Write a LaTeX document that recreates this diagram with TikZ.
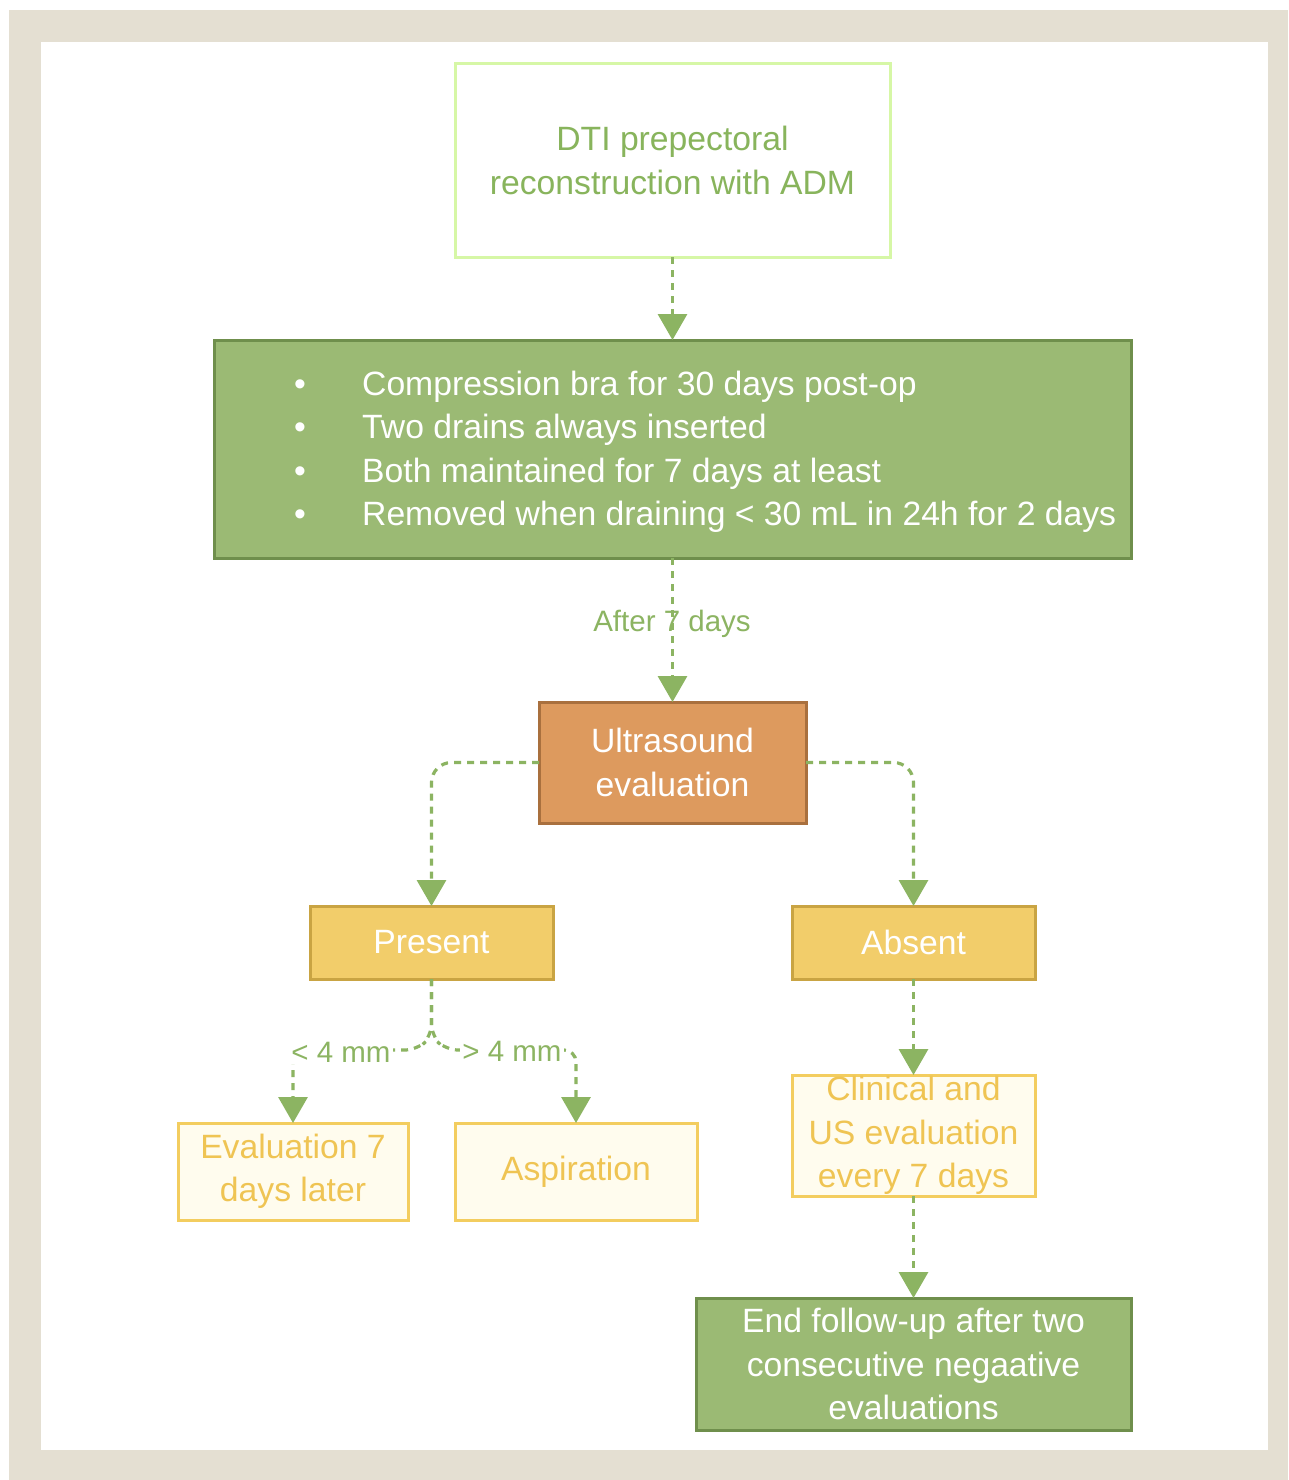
\documentclass[tikz,border=0pt]{standalone}
\usepackage{fontspec}
\setmainfont{Liberation Sans}
\usetikzlibrary{arrows.meta}
\definecolor{beige}{HTML}{E4DFD2}
\definecolor{conngreen}{HTML}{8CB462}
\definecolor{boxgreen}{HTML}{9BBA74}
\definecolor{boxgreenborder}{HTML}{6F8F4C}
\definecolor{limeborder}{HTML}{D6F7A6}
\definecolor{limetext}{HTML}{88B45C}
\definecolor{orangefill}{HTML}{DD9A5E}
\definecolor{orangeborder}{HTML}{A9703E}
\definecolor{yellowfill}{HTML}{F2CD6A}
\definecolor{yellowborder}{HTML}{C9A443}
\definecolor{creamfill}{HTML}{FFFCEE}
\definecolor{creamborder}{HTML}{F3CD5F}
\definecolor{creamtext}{HTML}{EFC453}
\tikzset{
  basebox/.style={rectangle, line width=3pt, inner sep=0pt, outer sep=0pt, align=center,
    font=\fontsize{33.7}{43.5}\selectfont},
  startbox/.style={basebox, draw=limeborder, fill=white, text=limetext},
  greenbox/.style={basebox, draw=boxgreenborder, fill=boxgreen, text=white},
  orangebox/.style={basebox, draw=orangeborder, fill=orangefill, text=white},
  yellowbox/.style={basebox, draw=yellowborder, fill=yellowfill, text=white},
  creambox/.style={basebox, draw=creamborder, fill=creamfill, text=creamtext},
  conn/.style={draw=conngreen, line width=3.2pt, dash pattern=on 7pt off 6pt,
    -{Triangle[width=29pt,length=26pt,fill=conngreen]}},
  lbl/.style={text=conngreen, font=\fontsize{29.5}{34}\selectfont, inner sep=2pt},
}
\begin{document}
\begin{tikzpicture}[x=1pt,y=-1pt]
\useasboundingbox (0,0) rectangle (1288,1480);
\fill[white] (0,0) rectangle (1288,1480);
\fill[beige] (9,10) rectangle (1288,1480);
\fill[white] (41,42) rectangle (1268,1450);

\node[startbox, minimum width=435, minimum height=193] (top) at (672.5,160.5)
  {DTI prepectoral\\reconstruction with ADM};
\node[greenbox, minimum width=917, minimum height=218] (prep) at (672.5,449) {};
\node[anchor=west, align=left, text=white, inner sep=0pt,
  font=\fontsize{33.7}{43.5}\selectfont] (preplist) at (294,452)
  {\makebox[68pt][l]{•}Compression bra for 30 days post-op\\
   \makebox[68pt][l]{•}Two drains always inserted\\
   \makebox[68pt][l]{•}Both maintained for 7 days at least\\
   \makebox[68pt][l]{•}Removed when draining < 30 mL in 24h for 2 days};
\node[orangebox, minimum width=267, minimum height=121] (us) at (672.5,762.5)
  {Ultrasound\\evaluation};
\node[yellowbox, minimum width=243, minimum height=73] (present) at (431.5,942.5) {Present};
\node[yellowbox, minimum width=243, minimum height=73] (absent) at (913.5,942.5) {Absent};
\node[creambox, minimum width=230, minimum height=97] (eval) at (293,1171.5)
  {Evaluation 7\\days later};
\node[creambox, minimum width=242, minimum height=97] (asp) at (576,1171.5) {Aspiration};
\node[creambox, minimum width=243, minimum height=121] (clin) at (913.5,1135.5)
  {Clinical and\\US evaluation\\every 7 days};
\node[greenbox, minimum width=435, minimum height=132] (end) at (913.5,1364)
  {End follow-up after two\\consecutive negaative\\evaluations};

\draw[conn] (top.south) -- (prep.north);
\draw[conn] (prep.south) -- (us.north);
\node[lbl] (after) at (672,624) {After 7 days};
\draw[conn, rounded corners=20pt] (us.west) -| (present.north);
\draw[conn, rounded corners=20pt] (us.east) -| (absent.north);
\draw[conn, rounded corners=12pt] (present.south) -- (431.5,1036) -- (417,1050) -- (293,1050) -- (eval.north);
\draw[conn, rounded corners=12pt] (present.south) -- (431.5,1036) -- (446,1050) -- (576,1050) -- (asp.north);
\node[lbl, fill=white] (less) at (341,1052) {< 4 mm};
\node[lbl, fill=white] (more) at (512,1051) {> 4 mm};
\draw[conn] (absent.south) -- (clin.north);
\draw[conn] (clin.south) -- (end.north);
\end{tikzpicture}
\end{document}
